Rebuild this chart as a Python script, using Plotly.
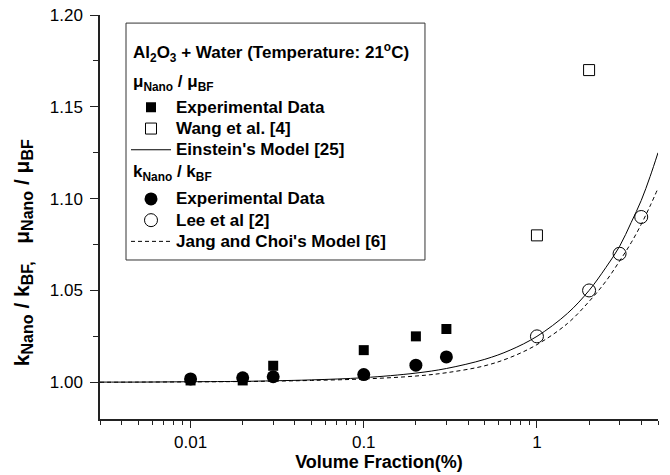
import plotly.graph_objects as go

# ---- data ----
vol_exp = [0.01, 0.02, 0.03, 0.1, 0.2, 0.3]
visc_exp = [1.001, 1.001, 1.009, 1.0175, 1.025, 1.029]
cond_exp = [1.0018, 1.0024, 1.003, 1.0042, 1.0093, 1.0138]

wang_x = [1, 2]
wang_y = [1.08, 1.17]

lee_x = [1, 2, 3, 4]
lee_y = [1.025, 1.05, 1.07, 1.09]

model_x = [0.003, 0.005, 0.01, 0.02, 0.03, 0.05, 0.1, 0.2, 0.3, 0.5, 0.7,
           1, 1.5, 2, 2.5, 3, 3.5, 4, 4.5, 5]
einstein_y = [1.0001, 1.0001, 1.0003, 1.0005, 1.0008, 1.0013, 1.0025, 1.005,
              1.0075, 1.0125, 1.0175, 1.025, 1.0375, 1.05, 1.0625, 1.074,
              1.087, 1.099, 1.112, 1.125]
jang_y = [1.0000, 1.0001, 1.0002, 1.0004, 1.0006, 1.0010, 1.0018, 1.0034,
          1.0052, 1.009, 1.0135, 1.0205, 1.032, 1.044, 1.055, 1.066, 1.076,
          1.086, 1.096, 1.1056]

x_tickvals = [0.01, 0.1, 1]
x_ticktext = ["0.01", "0.1", "1"]
x_minor = [0.003, 0.004, 0.005, 0.006, 0.007, 0.008, 0.009,
           0.02, 0.03, 0.04, 0.05, 0.06, 0.07, 0.08, 0.09,
           0.2, 0.3, 0.4, 0.5, 0.6, 0.7, 0.8, 0.9, 2, 3, 4, 5]

FONT = "Liberation Sans"


def big(t):
    return '<span style="font-size:17px">' + t + '</span>'


grp_mu = "μ<sub>Nano</sub> / μ<sub>BF</sub>"
grp_k = "k<sub>Nano</sub> / k<sub>BF</sub>"
legend_title = "Al<sub>2</sub>O<sub>3</sub> + Water (Temperature: 21<sup>o</sup>C)"


def sub(t):
    return '<sub><span style="font-size:16px">' + t + '</span></sub>'


NB = "\u00a0"
ytitle = ("k" + sub("Nano") + NB + "/" + NB + "k" + sub("BF,") + NB + NB + NB +
          "μ" + sub("Nano") + NB + "/" + NB + "μ" + sub("BF"))

fig = go.Figure()

# viscosity group
fig.add_trace(go.Scatter(
    x=vol_exp, y=visc_exp, mode="markers", name=big("Experimental Data"),
    marker=dict(symbol="square", size=10, color="black"),
    legendgroup="mu"))
fig.add_trace(go.Scatter(
    x=wang_x, y=wang_y, mode="markers", name=big("Wang et al. [4]"),
    marker=dict(symbol="square-open", size=11, color="black", line=dict(width=1)),
    legendgroup="mu"))
fig.add_trace(go.Scatter(
    x=model_x, y=einstein_y, mode="lines", name=big("Einstein's Model [25]"),
    line=dict(color="black", width=1, shape="spline"),
    legendgroup="mu"))

# conductivity group
fig.add_trace(go.Scatter(
    x=vol_exp, y=cond_exp, mode="markers", name=big("Experimental Data"),
    marker=dict(symbol="circle", size=13, color="black"),
    legendgroup="k"))
fig.add_trace(go.Scatter(
    x=lee_x, y=lee_y, mode="markers", name=big("Lee et al [2]"),
    marker=dict(symbol="circle-open", size=13, color="black", line=dict(width=1)),
    legendgroup="k"))
fig.add_trace(go.Scatter(
    x=model_x, y=jang_y, mode="lines", name=big("Jang and Choi's Model [6]"),
    line=dict(color="black", width=1, dash="4px,3px", shape="spline"),
    legendgroup="k"))

fig.update_layout(
    width=670, height=475,
    margin=dict(l=100, r=12, t=15, b=56, autoexpand=False),
    paper_bgcolor="white", plot_bgcolor="white",
    font=dict(family=FONT, size=17, color="black"),
    showlegend=True,
    legend=dict(
        x=0.0466, y=0.810, xanchor="left", yanchor="top",
        borderwidth=0, bgcolor="rgba(0,0,0,0)",
        font=dict(family=FONT, size=14, weight="bold"),
        traceorder="grouped", tracegroupgap=28, itemwidth=40,
    ),
    xaxis=dict(
        type="log", range=[-2.5229, 0.69897], automargin=False,
        tickmode="array", tickvals=x_tickvals, ticktext=x_ticktext,
        ticks="outside", ticklen=7, tickwidth=1.2, tickcolor="#222",
        showline=True, linecolor="#222", linewidth=1.5,
        showgrid=False, zeroline=False,
        tickfont=dict(size=17),
        minor=dict(tickmode="array", tickvals=x_minor, ticks="outside",
                   ticklen=4, tickwidth=1.2, tickcolor="#222", showgrid=False),
        title=dict(text="Volume Fraction(%)", standoff=3,
                   font=dict(family=FONT, size=18, weight="bold")),
    ),
    yaxis=dict(
        range=[0.98, 1.20], tickmode="linear", tick0=1.0, dtick=0.05,
        tickformat=".2f", automargin=False, ticklabelstandoff=4,
        ticks="outside", ticklen=8, tickwidth=1.2, tickcolor="#222",
        showline=True, linecolor="#222", linewidth=1.5,
        showgrid=False, zeroline=False,
        tickfont=dict(size=17),
        minor=dict(tick0=1.025, dtick=0.05, ticks="outside", ticklen=5,
                   tickwidth=1.2, tickcolor="#222", showgrid=False),
    ),
    shapes=[dict(
        type="rect", xref="paper", yref="paper",
        x0=0.0466, x1=0.5824, y0=0.3936, y1=0.980,
        line=dict(color="#333", width=1), fillcolor="rgba(0,0,0,0)",
    )],
    annotations=[
        dict(text=ytitle, textangle=-90, xref="paper", yref="paper",
             x=-0.138, y=0.413, xanchor="center", yanchor="middle",
             showarrow=False, font=dict(family=FONT, size=21, weight="bold")),
        dict(text=legend_title, xref="paper", yref="paper",
             x=0.056, y=0.908, xanchor="left", yanchor="middle",
             showarrow=False, font=dict(family=FONT, size=17, weight="bold")),
        dict(text=grp_mu, xref="paper", yref="paper",
             x=0.0556, y=0.832, xanchor="left", yanchor="middle",
             showarrow=False, font=dict(family=FONT, size=17, weight="bold")),
        dict(text=grp_k, xref="paper", yref="paper",
             x=0.0556, y=0.609, xanchor="left", yanchor="middle",
             showarrow=False, font=dict(family=FONT, size=17, weight="bold")),
    ],
)

fig.write_html("out.html")
